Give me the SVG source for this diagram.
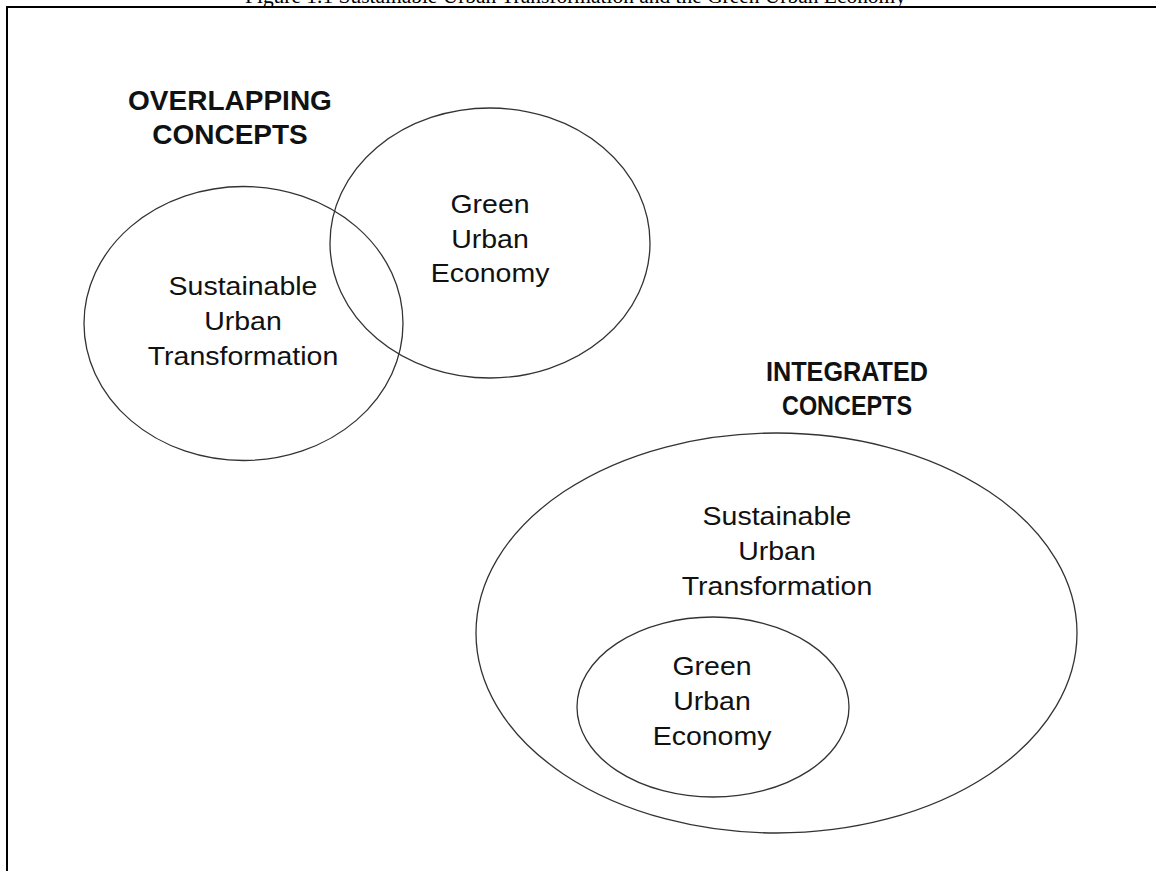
<svg xmlns="http://www.w3.org/2000/svg" width="1156" height="871" viewBox="0 0 1156 871">
<style>
.frame{stroke:#000;stroke-width:2;fill:none}
.ell{fill:none;stroke:#333;stroke-width:1.3}
.t{font-family:"Liberation Sans",Arial,sans-serif;font-size:25px;fill:#111;text-anchor:middle}
.h{font-family:"Liberation Sans",Arial,sans-serif;font-size:28px;font-weight:bold;fill:#111;text-anchor:middle}
.title{font-family:"Liberation Serif","Times New Roman",serif;font-size:21px;fill:#000;text-anchor:middle}
</style>
<rect width="1156" height="871" fill="#fff"/>
<text class="title" x="575.5" y="3" textLength="661" lengthAdjust="spacingAndGlyphs">Figure 1.1 Sustainable Urban Transformation and the Green Urban Economy</text>
<path class="frame" d="M7,871 V7 H1156"/>
<g id="label-overlapping">
<text class="h" x="230" y="110">OVERLAPPING</text>
<text class="h" x="230" y="144">CONCEPTS</text>
</g>
<g id="sut-overlap">
<ellipse class="ell" cx="243.5" cy="323.5" rx="159.5" ry="137"/>
<text class="t" transform="translate(243,295) scale(1.14,1)">Sustainable</text>
<text class="t" transform="translate(243,330) scale(1.14,1)">Urban</text>
<text class="t" transform="translate(243,365) scale(1.14,1)">Transformation</text>
</g>
<g id="gue-overlap">
<ellipse class="ell" cx="490" cy="243" rx="160" ry="135"/>
<text class="t" transform="translate(490,213) scale(1.14,1)">Green</text>
<text class="t" transform="translate(490,248) scale(1.14,1)">Urban</text>
<text class="t" transform="translate(490,282) scale(1.14,1)">Economy</text>
</g>
<g id="label-integrated">
<text class="h" x="847" y="381" textLength="162" lengthAdjust="spacingAndGlyphs">INTEGRATED</text>
<text class="h" x="847" y="415" textLength="130" lengthAdjust="spacingAndGlyphs">CONCEPTS</text>
</g>
<g id="sut-integrated">
<ellipse class="ell" cx="776.5" cy="633" rx="300.5" ry="200"/>
<text class="t" transform="translate(777,525) scale(1.14,1)">Sustainable</text>
<text class="t" transform="translate(777,560) scale(1.14,1)">Urban</text>
<text class="t" transform="translate(777,595) scale(1.14,1)">Transformation</text>
</g>
<g id="gue-integrated">
<ellipse class="ell" cx="713" cy="707" rx="136" ry="90"/>
<text class="t" transform="translate(712,675) scale(1.14,1)">Green</text>
<text class="t" transform="translate(712,710) scale(1.14,1)">Urban</text>
<text class="t" transform="translate(712,745) scale(1.14,1)">Economy</text>
</g>
<g id="connectors"></g>
</svg>
